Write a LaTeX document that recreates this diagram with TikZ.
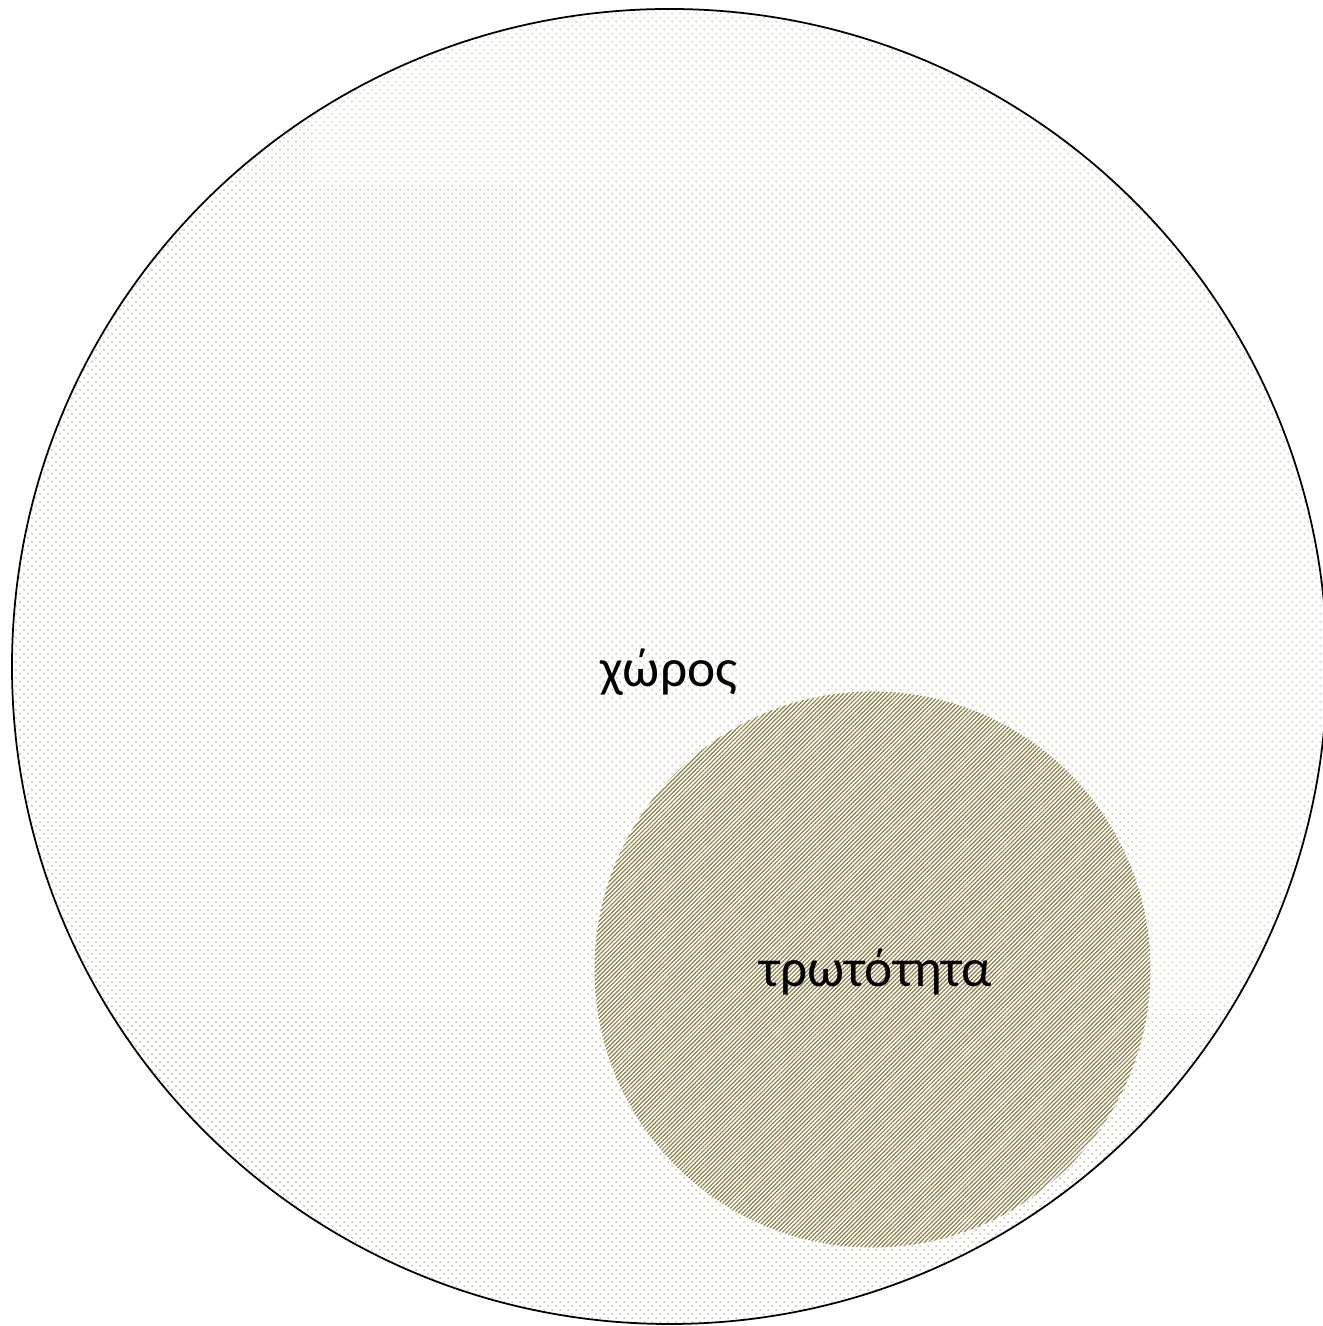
\documentclass[tikz,border=0pt]{standalone}
\usepackage{fontspec}
\setmainfont{Carlito}
\usetikzlibrary{patterns.meta}

\definecolor{dotsand}{RGB}{212,206,182}
\definecolor{stripeolive}{RGB}{138,125,69}

\begin{document}
\begin{tikzpicture}[x=1cm,y=1cm,
  rim/.style={draw=black,line width=0.5pt},
  dotted area/.style={pattern={Dots[distance=1.61pt,radius=0.34pt,angle=45]},
    pattern color=dotsand},
  hatched area/.style={pattern={Lines[distance=0.85pt,angle=45,line width=0.34pt]},
    pattern color=stripeolive},
  label/.style={font=\fontsize{15.2}{18}\selectfont,text=black,inner sep=0pt}]

\useasboundingbox (0,0) rectangle (13.22,13.26);

% Outer set: the whole space.
\fill[white] (0,0) rectangle (13.22,13.26);
\coordinate (space centre) at (6.695,6.595);
\path[dotted area] (space centre) circle (6.575);
\draw[rim] (space centre) circle (6.575);

% Inner set, no outline.
\coordinate (hurt centre) at (8.725,3.565);
\fill[white] (hurt centre) circle (2.78);
\path[hatched area] (hurt centre) circle (2.78);

% Labels.
\node[label] (space) at (6.69,6.54) {χώρος};
\node[label] (hurt) at (8.76,3.54) {τρωτότητα};
\end{tikzpicture}
\end{document}
